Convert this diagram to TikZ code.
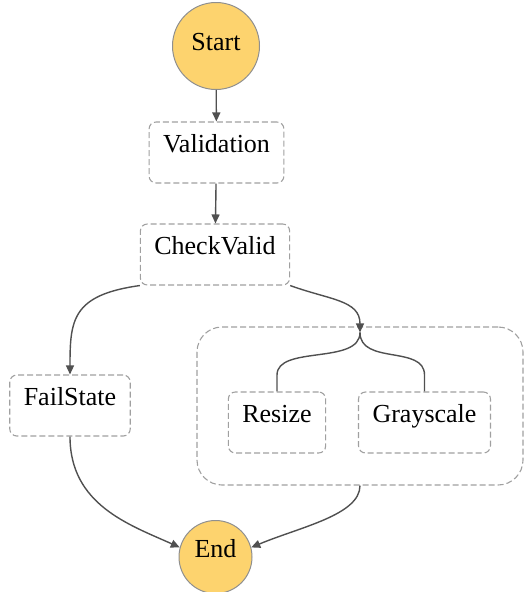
\documentclass[tikz,border=0pt]{standalone}
\usepackage{fontspec}
\setmainfont{Liberation Serif}
\usepackage{xcolor}
\usepackage{tikz}
\usetikzlibrary{arrows.meta}

\definecolor{termfill}{HTML}{FDD36E}
\definecolor{termline}{HTML}{8F8F8F}
\definecolor{boxline}{HTML}{A0A0A0}
\definecolor{arrline}{HTML}{505050}

\begin{document}
\begin{tikzpicture}[x=1pt, y=-1pt,
  every node/.style={font=\fontsize{26}{31}\selectfont, text height=0pt, text depth=0pt},
  term/.style={draw=termline, fill=termfill, circle, line width=1pt, inner sep=0pt},
  state/.style={draw=boxline, line width=1.1pt, dash pattern=on 6pt off 3pt, rounded corners=7pt, minimum height=61pt, inner xsep=14pt},
  group/.style={draw=boxline, line width=1.1pt, dash pattern=on 6pt off 3pt, rounded corners=25pt, minimum width=326pt, minimum height=158pt},
  arr/.style={draw=arrline, line width=1.4pt, -{Triangle[length=9pt, width=8pt]}},
  link/.style={draw=arrline, line width=1.4pt}]

\useasboundingbox (0,0) rectangle (524,592);

\node[term, minimum size=87pt, text height=8pt] (start) at (216,46) {Start};
\node[state] (valid) at (216.5,152.5) {Validation};
\node[state] (check) at (215,254.5) {CheckValid};
\node[state] (fail) at (70,405.5) {FailState};

\node[group] (par) at (360,406) {};
\node[state] (resize) at (277,422.5) {Resize};
\node[state] (gray) at (424.5,422.5) {Grayscale};

\node[term, minimum size=73pt] (end) at (215.5,557) {End};

\coordinate (fork) at ([yshift=-6pt]par.north);

\path[arr] (start) -- (valid);
\path[arr] (valid) -- (check);
\path[arr] (check.south west) .. controls (72,295) and (70,320) .. (fail.north);
\path[arr] (check.south east) .. controls (330,300) and (360,300) .. (fork);
\path[link] (fork) .. controls (360,365) and (277,345) .. (277,375) -- (resize.north);
\path[link] (fork) .. controls (360,365) and (424.5,345) .. (424.5,375) -- (gray.north);
\path[arr] (fail.south) .. controls (70,505) and (130,525) .. (end.165);
\path[arr] (par.south) .. controls (360,515) and (300,527) .. (end.15);

\end{tikzpicture}
\end{document}
